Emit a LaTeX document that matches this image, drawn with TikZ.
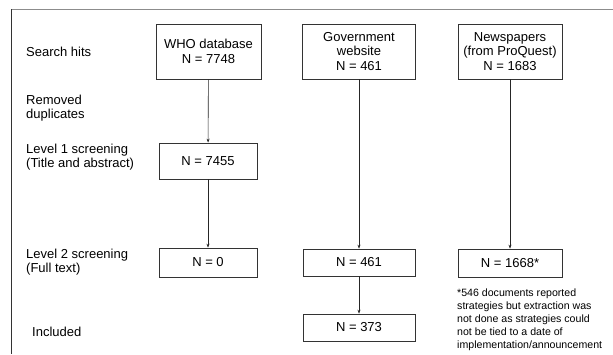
\documentclass[tikz,border=0pt]{standalone}
\usepackage{fontspec}
\setmainfont{Liberation Sans}
\usetikzlibrary{arrows.meta}
\begin{document}
\begin{tikzpicture}[x=1pt,y=-1pt,
  box/.style={draw=black!80,line width=0.7pt,inner sep=0pt,align=center,font=\fontsize{13}{14.5}\selectfont},
  lbl/.style={anchor=west,align=left,inner sep=0pt,font=\fontsize{13}{14.5}\selectfont},
  conn/.style={draw=black!85,line width=0.6pt,-{Stealth[length=4pt,width=3pt]}}]
\useasboundingbox (0,0) rectangle (613,354);
% frame
\draw[draw=black!45,line width=1.3pt] (613,9.5) -- (11,9.5);
\draw[draw=black!80,line width=0.8pt] (11,9) -- (11,354);
% left labels
\node[lbl] (l1) at (26,52) {Search hits};
\node[lbl] (l2) at (26,108) {Removed\\duplicates};
\node[lbl] (l3) at (26,157) {Level 1 screening\\(Title and abstract)};
\node[lbl] (l4) at (26,262) {Level 2 screening\\(Full text)};
\node[lbl] (l5) at (32,332) {Included};
% boxes
\node[box,minimum width=105pt,minimum height=55pt] (who) at (208.5,51.5) {WHO database\\N = 7748};
\node[box,minimum width=113pt,minimum height=55pt] (gov) at (359,51.5) {Government\\website\\N = 461};
\node[box,minimum width=104pt,minimum height=55pt] (news) at (510,51.5) {Newspapers\\(from ProQuest)\\N = 1683};
\node[box,minimum width=98pt,minimum height=36pt] (l1who) at (208,161) {N = 7455};
\node[box,minimum width=98pt,minimum height=29pt] (l2who) at (208,262.5) {N = 0};
\node[box,minimum width=112pt,minimum height=27pt] (l2gov) at (359,262.5) {N = 461};
\node[box,minimum width=104pt,minimum height=28pt] (l2news) at (510,263) {N = 1668*};
\node[box,minimum width=112pt,minimum height=27pt] (incgov) at (359,327.5) {N = 373};
\node[anchor=north west,align=left,inner sep=0pt,font=\fontsize{10.6}{13}\selectfont] (note) at (457,289) {*546 documents reported\\strategies but extraction was\\not done as strategies could\\not be tied to a date of\\implementation/announcement};
% connectors
\draw[conn] (who) -- (l1who);
\draw[conn] (l1who) -- (l2who);
\draw[conn] (gov) -- (l2gov);
\draw[conn] (l2gov) -- (incgov);
\draw[conn] (news) -- (l2news);
\end{tikzpicture}
\end{document}
